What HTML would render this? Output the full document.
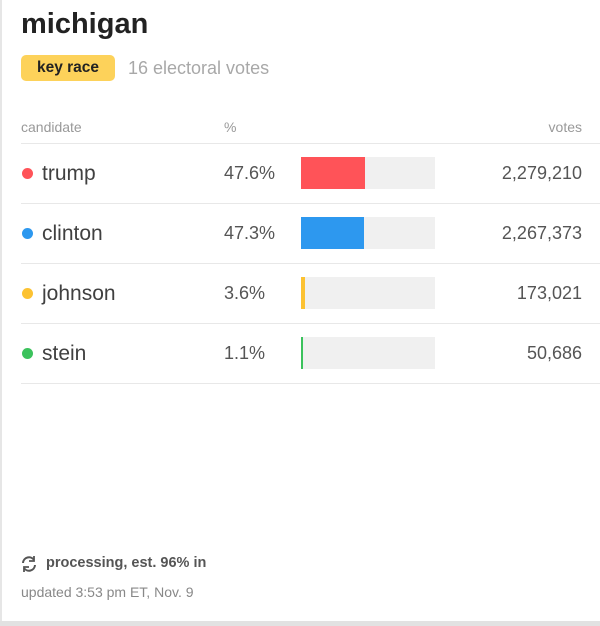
<!DOCTYPE html>
<html><head><style>
body{margin:0;width:600px;height:626px;overflow:hidden;background:#fff;font-family:"Liberation Sans",Arial,sans-serif;position:relative}
.a{position:absolute;white-space:nowrap}
.lb{position:absolute;left:0;top:0;width:2px;height:626px;background:#e6e6e6}
.bb{position:absolute;left:0;top:621px;width:600px;height:5px;background:#e2e2e2}
.ln{position:absolute;left:21px;width:579px;height:1px;background:#e8e8e8}
.dot{position:absolute;width:11px;height:11px;border-radius:50%}
.name{font-size:21px;color:#404040}
.pct{font-size:18px;color:#555;left:224px}
.vot{font-size:18px;color:#555;right:18px}
.bar{position:absolute;left:301px;width:134px;height:32px;background:#f0f0f0}
.fill{position:absolute;left:0;top:0;height:32px}
</style></head><body>
<div class="lb"></div><div class="bb"></div>
<div class="a" style="left:21px;top:8px;font-size:29px;font-weight:bold;color:#222">michigan</div>
<div class="a" style="left:21px;top:55px;width:94px;height:26px;border-radius:5px;background:#fdd25a;text-align:center;line-height:26px;font-size:15.5px;font-weight:bold;color:#222">key race</div>
<div class="a" style="left:128px;top:58px;font-size:18px;color:#a8a8a8">16 electoral votes</div>
<div class="a" style="left:21px;top:119px;font-size:14px;color:#999">candidate</div>
<div class="a" style="left:224px;top:119px;font-size:14px;color:#999">%</div>
<div class="a" style="right:18px;top:119px;font-size:14px;color:#999">votes</div>
<div class="ln" style="top:143px"></div>
<div class="ln" style="top:203px"></div>
<div class="ln" style="top:263px"></div>
<div class="ln" style="top:323px"></div>
<div class="ln" style="top:383px"></div>

<div class="dot" style="left:22px;top:168px;background:#ff5358"></div>
<div class="a name" style="left:42px;top:162px">trump</div>
<div class="a pct" style="top:163px">47.6%</div>
<div class="bar" style="top:157px"><div class="fill" style="width:64px;background:#ff5358"></div></div>
<div class="a vot" style="top:163px">2,279,210</div>

<div class="dot" style="left:22px;top:228px;background:#2d98ef"></div>
<div class="a name" style="left:42px;top:222px">clinton</div>
<div class="a pct" style="top:223px">47.3%</div>
<div class="bar" style="top:217px"><div class="fill" style="width:63px;background:#2d98ef"></div></div>
<div class="a vot" style="top:223px">2,267,373</div>

<div class="dot" style="left:22px;top:288px;background:#fcc232"></div>
<div class="a name" style="left:42px;top:282px">johnson</div>
<div class="a pct" style="top:283px">3.6%</div>
<div class="bar" style="top:277px"><div class="fill" style="width:4px;background:#fcc232"></div></div>
<div class="a vot" style="top:283px">173,021</div>

<div class="dot" style="left:22px;top:348px;background:#3bc25c"></div>
<div class="a name" style="left:42px;top:342px">stein</div>
<div class="a pct" style="top:343px">1.1%</div>
<div class="bar" style="top:337px"><div class="fill" style="width:2px;background:#3bc25c"></div></div>
<div class="a vot" style="top:343px">50,686</div>

<svg class="a" style="left:20px;top:555px" width="18" height="18" viewBox="0 0 18 18" fill="none" stroke="#555" stroke-width="2">
<path d="M3 8 A6 6 0 0 1 14 5"/><path d="M15 10 A6 6 0 0 1 4 13"/>
<path d="M14 1 L14 6 L9 6" stroke-width="1.8"/><path d="M4 17 L4 12 L9 12" stroke-width="1.8"/>
</svg>
<div class="a" style="left:46px;top:555px;font-size:14.5px;font-weight:bold;color:#555">processing, est. 96% in</div>
<div class="a" style="left:21px;top:584px;font-size:14px;color:#888">updated 3:53 pm ET, Nov. 9</div>
</body></html>
